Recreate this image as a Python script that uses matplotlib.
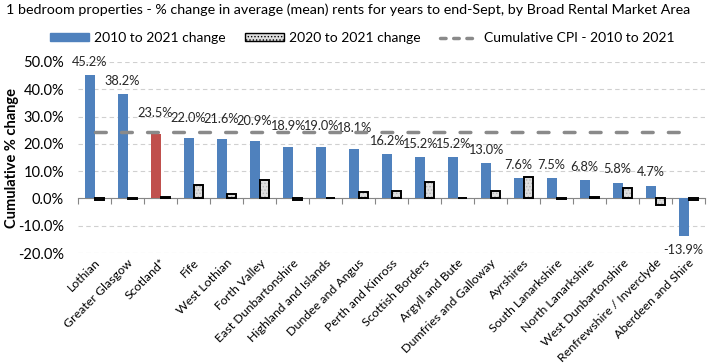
import matplotlib.pyplot as plt
from matplotlib.patches import Patch
from matplotlib.lines import Line2D
import numpy as np

plt.rcParams['font.family'] = ['Lato', 'DejaVu Sans']
plt.rcParams['hatch.linewidth'] = 0.6

areas = ['Lothian', 'Greater Glasgow', 'Scotland*', 'Fife', 'West Lothian',
         'Forth Valley', 'East Dunbartonshire', 'Highland and Islands',
         'Dundee and Angus', 'Perth and Kinross', 'Scottish Borders',
         'Argyll and Bute', 'Dumfries and Galloway', 'Ayrshires',
         'South Lanarkshire', 'North Lanarkshire', 'West Dunbartonshire',
         'Renfrewshire / Inverclyde', 'Aberdeen and Shire']
change_2010_2021 = [45.2, 38.2, 23.5, 22.0, 21.6, 20.9, 18.9, 19.0, 18.1, 16.2,
                    15.2, 15.2, 13.0, 7.6, 7.5, 6.8, 5.8, 4.7, -13.9]
change_2020_2021 = [-0.7, -0.2, 0.6, 4.8, 1.8, 6.7, -0.5, 0.3, 2.3, 2.6,
                    5.9, 0.3, 2.8, 7.8, -0.2, 0.4, 3.9, -2.4, -0.5]
cpi_2010_2021 = [24.4] * len(areas)

blue = '#4f81bd'
red = '#c0504d'
x = np.arange(len(areas))
w = 0.3

fig = plt.figure(figsize=(7.13, 3.64), dpi=100)
ax = fig.add_axes([0.1094, 0.3049, 0.8794, 0.5248])

colors = [red if a == 'Scotland*' else blue for a in areas]
ax.bar(x - w / 2, change_2010_2021, w, color=colors, zorder=3)
# grey bars: light stipple, then black outline on top
ax.bar(x + w / 2, change_2020_2021, w, facecolor='#dedede', edgecolor='#b4b4b4',
       linewidth=0, hatch='.....', zorder=3)
ax.bar(x + w / 2, change_2020_2021, w, facecolor='none', edgecolor='black',
       linewidth=1.4, zorder=3.5)
ax.plot(x, cpi_2010_2021, color='#8a8a8a', lw=2.5, dashes=(3.1, 4.4),
        dash_capstyle='round', zorder=4)

# data labels on the long-run change
for xi, v in zip(x, change_2010_2021):
    if v < 0:
        off = -10
    elif 17 < v < 25:
        off = 15
    else:
        off = 9.5
    ax.annotate(f'{v:.1f}%', (xi - w / 2, v), xytext=(0, off),
                textcoords='offset points', ha='center', va='center',
                fontsize=9.2, color='#262626')

ax.set_ylim(-20, 50)
ax.set_xlim(-0.5, len(areas) - 0.5)
ax.set_yticks(np.arange(-20, 51, 10))
ax.set_yticklabels([f'{t:.1f}%' for t in np.arange(-20, 51, 10)], fontsize=10.5)
ax.yaxis.grid(True, color='#d0d0d0', ls=(0, (4, 3)), lw=0.8, zorder=0)
ax.tick_params(axis='y', length=0, pad=10)
for s in ['left', 'right', 'top']:
    ax.spines[s].set_visible(False)
ax.spines['bottom'].set_position(('data', 0))
ax.spines['bottom'].set_color('#868686')
ax.set_xticks(np.arange(-0.5, len(areas), 1))
ax.set_xticklabels([])
ax.tick_params(axis='x', length=4, color='#868686', direction='out')

sec = ax.secondary_xaxis(0)
sec.set_xticks(x)
sec.set_xticklabels(areas, rotation=45, ha='right', rotation_mode='anchor',
                    fontsize=8.9)
sec.tick_params(length=0, pad=3)
sec.spines['bottom'].set_visible(False)

ax.set_ylabel('Cumulative % change', fontsize=10.5, fontweight='bold')
ax.yaxis.set_label_coords(-0.094, 0.5)

fig.text(0.008, 0.972, '1 bedroom properties - % change in average (mean) rents '
         'for years to end-Sept, by Broad Rental Market Area',
         fontsize=10.3, va='center', ha='left')

handles = [Patch(color=blue),
           Patch(facecolor='#dedede', edgecolor='black', hatch='.....'),
           Line2D([], [], color='#8a8a8a', lw=2.5, dashes=(1.6, 2.2),
                  dash_capstyle='round')]
fig.legend(handles, ['2010 to 2021 change', '2020 to 2021 change',
                     'Cumulative CPI - 2010 to 2021'],
           loc='center', bbox_to_anchor=(0.508, 0.896), ncol=3, frameon=False,
           fontsize=10, handlelength=2.8, handleheight=0.45, columnspacing=1.4,
           handletextpad=0.35)

fig.savefig('out.png', dpi=100)
